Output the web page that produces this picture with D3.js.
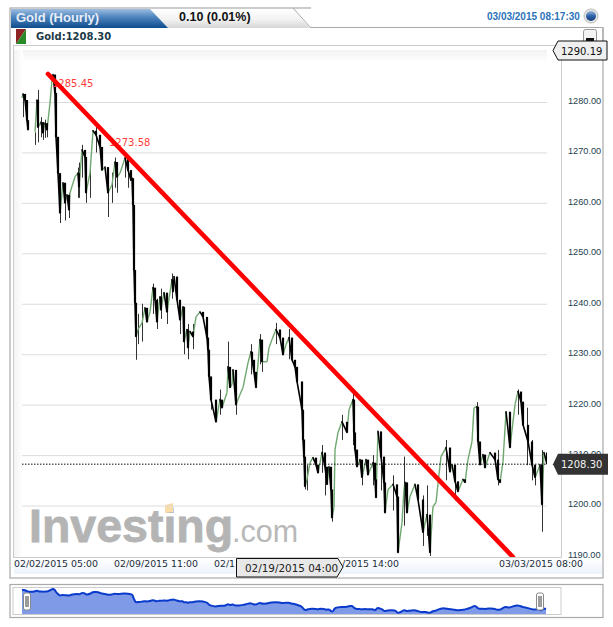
<!DOCTYPE html>
<html><head><meta charset="utf-8">
<script src="https://cdnjs.cloudflare.com/ajax/libs/d3/7.8.5/d3.min.js"></script>
<style>html,body{margin:0;padding:0;background:#fff}svg{display:block}</style>
</head><body><svg id="c" width="613" height="627"></svg>
<script>
const bars=[0,1,3,5,6,7,13,15,16,19,21,23,25,28,30,31,33,34,36,38,41,43,45,47,48,53,56,57,60,63,64,68,71,74,78,80,83,86,90,93,95,98,103,106,109,110,111,112,113,114,116,120,123,125,128,131,133,135,138,139,142,145,150,151,152,155,158,161,162,165,166,168,171,174,178,181,185,186,187,189,194,198,200,205,206,208,210,211,214,218,221,226,229,230,232,234,238,240,245,247,250,254,258,261,264,267,270,273,275,280,281,282,283,285,288,291,294,296,300,303,305,307,309,310,312,313,316,320,325,327,331,332,333,335,338,340,344,346,351,353,354,356,359,362,363,366,371,375,376,380,382,383,385,388,393,396,401,405,408,411,414,417,419,424,428,430,433,436,441,443,446,450,452,455,456,458,461,463,468,473,476,478,481,484,488,493,496,499,501,506,510,513,515,518,520,522,525];
const closes=[1280.8,1281.6,1280.4,1276.4,1274.5,null,1274.1,1280.4,1275.0,1276.0,1273.9,1275.8,1274.5,1279.8,1284.4,1285.45,1281.8,1273.1,1265.9,1258.0,1264.0,1260.0,1261.6,1258.6,1262.0,1265.2,1265.9,1263.2,1270.5,1269.1,1262.0,1265.9,1274.3,1273.5,1271.1,1266.5,1267.1,1262.0,1263.6,1268.1,1265.1,1265.9,1268.9,1266.5,1264.5,1264.9,1259.6,1246.7,1240.2,1233.5,1234.9,1236.2,1239.2,1236.4,1238.4,1243.2,1240.8,1236.4,1241.4,1238.8,1242.2,1238.4,1244.8,1242.4,1245.4,1240.8,1236.8,1239.4,1232.5,1234.9,1231.3,1234.5,1233.5,1237.4,1238.4,1237.4,1233.3,1230.9,1225.6,1221.0,1216.6,1221.0,1219.4,1222.4,1227.5,1223.4,1224.0,1226.9,1220.0,1222.0,1223.4,1228.3,1230.5,1228.9,1226.5,1223.4,1232.9,1228.5,1228.5,1231.3,1232.9,1234.9,1233.3,1229.9,1231.9,1233.3,1228.9,1227.5,1224.6,1219.0,1213.1,1209.7,1203.8,1205.2,1208.5,1209.5,1208.1,1206.5,1210.5,1207.7,1204.2,1207.7,1203.2,1197.6,1199.6,1211.1,1214.5,1216.6,1214.5,1219.0,1221.0,1214.5,1211.1,1207.7,1209.1,1205.6,1209.1,1206.1,1208.5,1205.2,1201.6,1214.7,1209.7,1204.6,1198.6,1203.2,1204.2,1201.8,1190.7,1196.6,1203.2,1204.6,1198.6,1201.8,1204.2,1201.2,1194.7,1198.2,1190.7,1199.8,1200.6,1206.1,1209.7,1211.5,1206.7,1208.1,1204.8,1202.8,1205.2,1204.6,1209.1,1212.7,1219.4,1219.6,1212.7,1208.1,1210.1,1207.5,1210.5,1209.1,1205.2,1204.6,1208.7,1218.6,1211.5,1220.0,1222.6,1220.6,1216.0,1212.7,1208.1,1205.6,1206.5,1208.1,1200.2,1210.5,1208.3];
const wickBars=[1,16,38,47,57,86,114,120,162,206,240,254,283,310,331,382,408,496,505,520,525,13,19,21,23,25,43,56,60,64,68,74,90,93,95,103,106,116,131,135,139,145,150,158,166,171,189,198,214,229,238,267,285,300,303,320,340,351,359,371,401,405,424,433,455,476,510,513];
const wickHighs=[1281.6,1282.4,1261,1262,1268,1266,1238,1240,1238,1232.5,1231,1236.2,1208,1203,1222.5,1209.7,1197,1223,1219.4,1211,1210.8,1274,1277,1276,1276.5,1276,1263,1267,1271.5,1266,1268,1275.5,1266,1269,1268,1270,1268,1238,1244,1241,1243,1241,1246,1240,1236,1236,1224,1223,1224,1232,1234,1235,1208,1212,1210,1218,1208,1210,1212,1206,1202,1204,1213,1207,1220.5,1211,1213,1208];
const wickLows=[1277,1272,1256,1257,1261,1257.2,1228.9,1232.5,1230,1225,1226.5,1232,1203.2,1196.8,1212,1196,1190,1218,1208,1194.8,1207,1271.5,1273,1272.5,1272.9,1273,1256.5,1261,1265,1260,1261,1270,1260,1263,1262,1265,1263,1232,1238,1235,1237,1236,1241,1234,1229,1231,1219,1218,1218,1226,1228,1229,1203,1206.5,1202,1213,1204,1204,1203,1199,1192,1194,1205,1201,1214,1204,1205,1204];
const yTicks=[1190,1200,1210,1220,1230,1240,1250,1260,1270,1280];
const xTickLabels=["02/02/2015 05:00","02/09/2015 11:00","02/1","/2015 14:00","03/03/2015 08:00"];
const xTickBars=[-8,92,192,320,477];
const crosshairLabel="02/19/2015 04:00";
const trendBars=[26,491];
const trendPrices=[1285.55,1189.8];
const peakLabels=["1285.45","1273.58"];
const peakBars=[30,87];
const peakPrices=[1283,1271.3];
const lastPrice=1208.30;
const highTag=1290.19;

const svg=d3.select("#c");
const x=d3.scaleLinear().domain([0,525]).range([22,547]);
const y=d3.scaleLinear().domain([1190,1280]).range([556,102]);
const navY=d3.scaleLinear().domain([1190,1285]).range([613.7,589]);
const defs=svg.append("defs");
function grad(id,x2,y2,stops){const g=defs.append("linearGradient").attr("id",id).attr("x1",0).attr("y1",0).attr("x2",x2).attr("y2",y2);
 stops.forEach(s=>g.append("stop").attr("offset",s[0]).attr("stop-color",s[1]));}
grad("blue",0,1,[[0,"#9dbde0"],[0.45,"#4a82bd"],[1,"#0f4c8c"]]);
grad("gray",0,1,[[0,"#ffffff"],[0.55,"#f2f2f2"],[1,"#d6d6d6"]]);
grad("topFade",0,1,[[0,"#f3f3f3"],[1,"#ffffff"]]);
grad("leftFade",1,0,[[0,"#f3f3f3"],[1,"#ffffff"]]);
grad("band",0,1,[[0,"#ffffff"],[1,"#edf3fb"]]);
grad("globe",0,1,[[0,"#9db8dc"],[0.5,"#2c62aa"],[1,"#173d78"]]);
defs.append("clipPath").attr("id","plot").append("rect").attr("x",14).attr("y",50).attr("width",533).attr("height",507);

const sans="'Liberation Sans',Arial,sans-serif", dj="'DejaVu Sans',Verdana,sans-serif";
// frame
svg.append("rect").attr("x",10).attr("y",8).attr("width",593).attr("height",570).attr("fill","#fff").attr("stroke","#aaa").attr("stroke-width",1.2);
svg.append("path").attr("d","M150,9 L293,9 L310,28 L168,28 Z").attr("fill","url(#gray)");
svg.append("path").attr("d","M293,8 L311,28").attr("stroke","#aaa").attr("fill","none");
svg.append("path").attr("d","M11,9 L150,9 L168,28 L11,28 Z").attr("fill","url(#blue)");
svg.append("rect").attr("x",311).attr("y",7).attr("width",302).attr("height",20.5).attr("fill","#fff");
svg.append("path").attr("d","M311,27.5 L603,27.5 L603,50").attr("stroke","#aaa").attr("fill","none").attr("stroke-width",1.2);
svg.append("text").attr("x",16).attr("y",22).text("Gold (Hourly)").attr("font-family",sans).attr("font-weight","bold").attr("font-size",13).attr("fill","#e8eef6");
svg.append("text").attr("x",179).attr("y",21).text("0.10 (0.01%)").attr("font-family",sans).attr("font-weight","bold").attr("font-size",12.5).attr("fill","#111");
svg.append("text").attr("x",487).attr("y",20).text("03/03/2015 08:17:30").attr("font-family",sans).attr("font-weight","bold").attr("font-size",10).attr("fill","#2b72b8");
svg.append("circle").attr("cx",591).attr("cy",16).attr("r",7).attr("fill","#e6e6e6").attr("stroke","#bbb");
svg.append("circle").attr("cx",591).attr("cy",16).attr("r",5).attr("fill","url(#globe)");
svg.append("path").attr("d","M16,29 L26,29 L16,44 Z").attr("fill","#8e2424");
svg.append("path").attr("d","M26,29 L26,44 L16,44 Z").attr("fill","#2a8a2a");
svg.append("text").attr("x",36).attr("y",40).text("Gold:1208.30").attr("font-family",dj).attr("font-weight","bold").attr("font-size",10).attr("fill","#1c3a48");
svg.append("rect").attr("x",583.5).attr("y",29.5).attr("width",13).attr("height",14).attr("rx",2).attr("fill","#f4f4f4").attr("stroke","#999");
svg.append("rect").attr("x",586).attr("y",38).attr("width",8).attr("height",4).attr("fill","#111");
// inner
svg.append("path").attr("d","M13.5,557.5 L13.5,45.5 L603,45.5").attr("stroke","#ccc").attr("fill","none");
svg.append("rect").attr("x",14).attr("y",558).attr("width",588).attr("height",16).attr("fill","url(#band)");
svg.append("rect").attr("x",22).attr("y",50).attr("width",525).attr("height",12).attr("fill","url(#topFade)");
svg.append("rect").attr("x",14).attr("y",50).attr("width",9).attr("height",507).attr("fill","url(#leftFade)");
svg.append("path").attr("d","M561.5,50 L561.5,557.5 L13,557.5").attr("stroke","#ccc").attr("fill","none");
// watermark
const wm=svg.append("g");
wm.append("text").attr("x",29).attr("y",542).text("Investing").attr("font-family",sans).attr("font-weight","bold").attr("font-size",46.5).attr("fill","#b4b4b4").attr("stroke","#b4b4b4").attr("stroke-width",0.8);
wm.append("text").attr("x",232).attr("y",542).text(".com").attr("font-family",sans).attr("font-size",30.5).attr("fill","#b8b8b8");
wm.append("path").attr("d","M165,505 L173,503 L173,512 L165,513 Z").attr("fill","#f9dca8");
// grid + y axis
const yAxis=d3.axisRight(y).tickValues(yTicks).tickFormat(d3.format(".2f")).tickSize(0).tickPadding(0);
const ga=svg.append("g").attr("transform","translate(568,0)").call(yAxis);
ga.select(".domain").remove();
ga.selectAll("text").attr("font-family",sans).attr("font-size",9.2).attr("fill","#23414f").attr("dy","0.15em");
svg.append("g").selectAll("line").data(yTicks.slice(1)).join("line").attr("x1",x(0)).attr("x2",x(525)).attr("y1",d=>y(d)+.5).attr("y2",d=>y(d)+.5).attr("stroke","#dcdcdc").attr("stroke-width",1);
// x labels
svg.append("g").selectAll("text").data(xTickLabels).join("text").attr("x",(d,i)=>x(xTickBars[i])).attr("y",567).text(d=>d).attr("font-family",dj).attr("font-size",9.4).attr("fill","#1c2c3a");
// price marks
const plot=svg.append("g").attr("clip-path","url(#plot)");
plot.append("g").selectAll("line").data(wickBars).join("line")
 .attr("x1",d=>x(d)+.5).attr("x2",d=>x(d)+.5)
 .attr("y1",(d,i)=>y(wickHighs[i])).attr("y2",(d,i)=>y(wickLows[i]))
 .attr("stroke","#333").attr("stroke-width",1);
const segs=[];
for(let i=1;i<bars.length;i++){ if(closes[i]!=null&&closes[i-1]!=null) segs.push({a:bars[i-1],b:bars[i],p:closes[i-1],q:closes[i]}); }
plot.append("g").selectAll("line").data(segs.filter(s=>s.q>=s.p)).join("line")
 .attr("x1",d=>x(d.a)).attr("x2",d=>x(d.b)).attr("y1",d=>y(d.p)).attr("y2",d=>y(d.q))
 .attr("stroke","#6fa86f").attr("stroke-width",1.4);
plot.append("g").selectAll("line").data(segs.filter(s=>s.q<s.p)).join("line")
 .attr("x1",d=>x(d.a)).attr("x2",d=>x(d.b)).attr("y1",d=>y(d.p)).attr("y2",d=>y(d.q))
 .attr("stroke","#000").attr("stroke-width",1.6).attr("stroke-linecap","round");
// candle bodies on falling bars
plot.append("g").selectAll("line").data(segs.filter(s=>s.q<s.p)).join("line")
 .attr("x1",d=>x(d.b)).attr("x2",d=>x(d.b)).attr("y1",d=>y(d.p)).attr("y2",d=>y(d.q))
 .attr("stroke","#000").attr("stroke-width",2.2);
// last price dotted line
svg.append("line").attr("x1",x(0)).attr("x2",x(525)).attr("y1",y(lastPrice)+.5).attr("y2",y(lastPrice)+.5).attr("stroke","#111").attr("stroke-dasharray","1.5,1.5");
// peak labels
svg.append("g").selectAll("text").data(peakLabels).join("text").attr("x",(d,i)=>x(peakBars[i])).attr("y",(d,i)=>y(peakPrices[i])).text(d=>d).attr("font-family",dj).attr("font-size",10).attr("fill","#ff3b3b");
// trend line
svg.append("line").attr("clip-path","url(#plot)").attr("x1",x(trendBars[0])).attr("y1",y(trendPrices[0])).attr("x2",x(trendBars[1])).attr("y2",y(trendPrices[1])).attr("stroke","#ff0000").attr("stroke-width",4.6).attr("stroke-linecap","round");
// price tags
const hy=50.5, ly=y(lastPrice)+.5;
svg.append("path").attr("d",`M553,${hy} L558,${hy-9.5} L607,${hy-9.5} L607,${hy+9.5} L558,${hy+9.5} Z`).attr("fill","#efefef").attr("stroke","#111");
svg.append("text").attr("x",561).attr("y",hy+4.5).text(d3.format(".2f")(highTag)).attr("font-family",dj).attr("font-size",10).attr("fill","#111");
svg.append("path").attr("d",`M553,${ly} L558,${ly-10.5} L608,${ly-10.5} L608,${ly+10.5} L558,${ly+10.5} Z`).attr("fill","#333");
svg.append("text").attr("x",561).attr("y",ly+4).text(d3.format(".2f")(lastPrice)).attr("font-family",dj).attr("font-size",10).attr("fill","#f2f2f2");
// crosshair date tag
svg.append("path").attr("d","M236.5,558.5 L338,558.5 L343,567 L337,577 L236.5,577 Z").attr("fill","#e8e8e8").attr("stroke","#111");
svg.append("text").attr("x",245).attr("y",571.5).text(crosshairLabel).attr("font-family",dj).attr("font-size",10.4).attr("fill","#222");
// navigator
svg.append("rect").attr("x",10).attr("y",584.5).attr("width",593).attr("height",33).attr("fill","#fff").attr("stroke","#aaa").attr("stroke-width",1.2);
svg.append("rect").attr("x",13).attr("y",587.5).attr("width",548).attr("height",27).attr("fill","#fff").attr("stroke","#ccc");
const navPts=bars.map((b,i)=>[b,closes[i]]).filter(d=>d[1]!=null);
const nx=d3.scaleLinear().domain([0,525]).range([22,546]);
svg.append("path").datum(navPts).attr("d",d3.area().x(d=>nx(d[0])).y0(614).y1(d=>navY(d[1]))).attr("fill","#7f9ae6");
svg.append("path").datum(navPts).attr("d",d3.line().x(d=>nx(d[0])).y(d=>navY(d[1])).curve(d3.curveBasis)).attr("fill","none").attr("stroke","#0a3acb").attr("stroke-width",2);
[0,514].forEach(b=>{const hx=nx(b)+5;
 svg.append("rect").attr("x",hx-3.5).attr("y",593).attr("width",7).attr("height",17).attr("rx",2).attr("fill","#fff").attr("stroke","#888");
 svg.append("path").attr("d",`M${hx-1},596V607M${hx+1},596V607`).attr("stroke","#222").attr("stroke-width",.9);
});
</script></body></html>
